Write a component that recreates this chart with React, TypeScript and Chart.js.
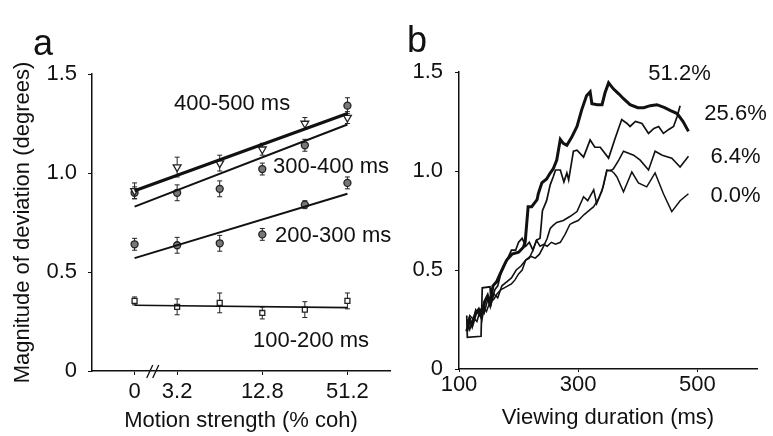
import { useEffect, useRef } from 'react';
import { Chart, registerables } from 'chart.js';

Chart.register(...registerables);

const FONT = "'Liberation Sans', Arial, Helvetica, sans-serif";
const INK = '#111';

// ---------- Panel a: magnitude of deviation vs motion strength ----------
const coherence = [0, 3.2, 6.4, 12.8, 25.6, 51.2];
const coherenceTickLabels = ['0', '3.2', '12.8', '51.2'];
const deviationTicks = [0, 0.5, 1.0, 1.5];

const dev400_500 = [0.91, 1.03, 1.05, 1.12, 1.25, 1.28];
const err400_500 = [0.04, 0.05, 0.04, 0.03, 0.03, 0.03];
const dev300_400 = [0.90, 0.90, 0.92, 1.02, 1.14, 1.34];
const err300_400 = [0.03, 0.04, 0.04, 0.03, 0.03, 0.04];
const dev200_300 = [0.64, 0.635, 0.645, 0.69, 0.84, 0.95];
const err200_300 = [0.03, 0.04, 0.04, 0.03, 0.02, 0.03];
const dev100_200 = [0.354, 0.324, 0.344, 0.293, 0.31, 0.354];
const err100_200 = [0.02, 0.04, 0.05, 0.03, 0.04, 0.04];

// regression line end values at coherence 0 and 51.2
const fitCoh = [0, 51.2];
const fit400_500 = [0.91, 1.30];
const fit300_400 = [0.83, 1.245];
const fit200_300 = [0.57, 0.895];
const fit100_200 = [0.332, 0.32];

// ---------- Panel b: deviation vs viewing duration ----------
const durationTicks = [100, 300, 500];

const dur51 = [113, 118, 122, 128, 133, 138, 143, 148, 152, 157, 163, 169, 175, 180, 189, 200, 208, 211, 216, 222, 231, 233, 239, 247, 253, 258, 264, 270, 275, 281, 289, 298, 306, 314, 320, 323, 332, 340, 345, 351, 359, 368, 376, 387, 400, 410, 421, 432, 445, 455, 466, 476, 485];
const dev51 = [0.19, 0.25, 0.22, 0.28, 0.30, 0.26, 0.34, 0.37, 0.33, 0.42, 0.44, 0.48, 0.52, 0.55, 0.58, 0.59, 0.615, 0.64, 0.82, 0.82, 0.855, 0.885, 0.94, 0.96, 0.99, 1.01, 1.055, 1.16, 1.14, 1.13, 1.17, 1.225, 1.31, 1.38, 1.40, 1.34, 1.335, 1.335, 1.395, 1.445, 1.415, 1.39, 1.365, 1.335, 1.32, 1.32, 1.33, 1.335, 1.32, 1.305, 1.29, 1.25, 1.20];

const dur256 = [113, 114, 137, 139, 152, 154, 160, 165, 170, 176, 182, 188, 195, 200, 206, 212, 218, 224, 230, 236, 240, 247, 253, 258, 262, 270, 276, 281, 284, 292, 298, 309, 320, 328, 337, 351, 362, 373, 382, 387, 396, 407, 418, 427, 435, 443, 452, 460, 466, 471];
const dev256 = [0.27, 0.16, 0.165, 0.41, 0.415, 0.33, 0.40, 0.42, 0.48, 0.52, 0.56, 0.60, 0.60, 0.64, 0.66, 0.62, 0.64, 0.60, 0.65, 0.66, 0.80, 0.85, 0.93, 0.97, 1.005, 1.005, 0.945, 0.99, 0.955, 1.10, 1.105, 1.07, 1.157, 1.12, 1.12, 1.065, 1.165, 1.26, 1.24, 1.225, 1.25, 1.24, 1.19, 1.215, 1.225, 1.19, 1.21, 1.225, 1.275, 1.33];

const dur64 = [113, 118, 124, 130, 136, 142, 148, 153, 158, 165, 172, 180, 188, 196, 204, 212, 220, 228, 235, 242, 248, 253, 258, 264, 275, 286, 298, 309, 316, 326, 331, 340, 348, 354, 359, 368, 376, 393, 404, 418, 429, 441, 457, 471, 485];
const dev64 = [0.25, 0.20, 0.26, 0.24, 0.30, 0.28, 0.35, 0.32, 0.38, 0.36, 0.42, 0.44, 0.46, 0.50, 0.52, 0.55, 0.57, 0.56, 0.58, 0.62, 0.66, 0.71, 0.725, 0.74, 0.75, 0.77, 0.795, 0.87, 0.85, 0.905, 0.835, 0.90, 1.005, 1.00, 1.01, 1.055, 1.10, 1.08, 1.055, 1.005, 1.10, 1.08, 1.065, 1.02, 1.075];

const dur00 = [113, 118, 124, 128, 134, 140, 146, 152, 158, 164, 170, 176, 182, 188, 194, 200, 206, 212, 218, 224, 230, 236, 242, 248, 255, 262, 270, 278, 286, 292, 300, 310, 318, 326, 334, 342, 348, 354, 360, 365, 376, 390, 401, 415, 429, 443, 457, 471, 485];
const dev00 = [0.22, 0.27, 0.25, 0.30, 0.27, 0.32, 0.29, 0.34, 0.35, 0.38, 0.40, 0.41, 0.42, 0.43, 0.45, 0.48, 0.50, 0.55, 0.56, 0.60, 0.65, 0.62, 0.63, 0.62, 0.64, 0.63, 0.64, 0.68, 0.73, 0.74, 0.75, 0.78, 0.80, 0.82, 0.86, 0.92, 1.00, 1.005, 0.99, 0.97, 0.895, 0.995, 0.94, 0.92, 0.99, 0.885, 0.795, 0.85, 0.885];

const cohIndex = (c: number) => coherence.indexOf(c);
const pointsA = (vals: number[]) => vals.map((v, i) => ({ x: i, y: v }));
const fitLine = (vals: number[]) => fitCoh.map((c, i) => ({ x: cohIndex(c), y: vals[i] }));
const seriesB = (xs: number[], ys: number[]) => xs.map((x, i) => ({ x, y: ys[i] }));

const errorBarPlugin = {
  id: 'errorBars',
  beforeDatasetsDraw(chart: any) {
    const { ctx, scales } = chart;
    const xs = scales.x;
    const ys = scales.y;
    ctx.save();
    ctx.strokeStyle = '#222';
    ctx.lineWidth = 1;
    chart.data.datasets.forEach((ds: any) => {
      if (!ds.errors) return;
      ds.data.forEach((p: any, i: number) => {
        const e = ds.errors[i];
        const px = xs.getPixelForValue(p.x);
        const y1 = ys.getPixelForValue(p.y + e);
        const y2 = ys.getPixelForValue(p.y - e);
        ctx.beginPath();
        ctx.moveTo(px, y1);
        ctx.lineTo(px, y2);
        ctx.moveTo(px - 2.5, y1);
        ctx.lineTo(px + 2.5, y1);
        ctx.moveTo(px - 2.5, y2);
        ctx.lineTo(px + 2.5, y2);
        ctx.stroke();
      });
    });
    ctx.restore();
  },
};

const annotationsPlugin = {
  id: 'annotations',
  afterDraw(chart: any, _args: any, opts: any) {
    const { ctx, scales } = chart;
    ctx.save();
    ctx.fillStyle = INK;
    ctx.textBaseline = 'middle';
    (opts.texts || []).forEach((t: any) => {
      ctx.font = `${t.size || 22}px ${FONT}`;
      ctx.textAlign = t.align || 'left';
      const px = t.pixel ? t.x : scales.x.getPixelForValue(t.x);
      const py = t.pixel ? t.y : scales.y.getPixelForValue(t.y);
      ctx.fillText(t.text, px, py);
    });
    if (opts.breakAt !== undefined) {
      const cx = scales.x.getPixelForValue(opts.breakAt);
      const ay = scales.y.getPixelForValue(0);
      ctx.strokeStyle = INK;
      ctx.lineWidth = 1.3;
      ctx.beginPath();
      ctx.moveTo(cx - 7, ay + 7);
      ctx.lineTo(cx - 1, ay - 6);
      ctx.moveTo(cx - 1, ay + 7);
      ctx.lineTo(cx + 5, ay - 6);
      ctx.stroke();
    }
    ctx.restore();
  },
};

const tickFont = { family: FONT, size: 22 };

function configA(): any {
  return {
    type: 'line',
    data: {
      datasets: [
        { data: fitLine(fit400_500), borderColor: INK, borderWidth: 3.2, pointRadius: 0 },
        { data: fitLine(fit300_400), borderColor: INK, borderWidth: 2, pointRadius: 0 },
        { data: fitLine(fit200_300), borderColor: INK, borderWidth: 2, pointRadius: 0 },
        { data: fitLine(fit100_200), borderColor: INK, borderWidth: 1.6, pointRadius: 0 },
        { data: pointsA(dev400_500), errors: err400_500, showLine: false, pointStyle: 'triangle', rotation: 180, pointRadius: 4.5, borderColor: '#222', backgroundColor: '#fff', borderWidth: 1.3 },
        { data: pointsA(dev300_400), errors: err300_400, showLine: false, pointStyle: 'circle', pointRadius: 3.5, borderColor: '#222', backgroundColor: '#777', borderWidth: 1.3 },
        { data: pointsA(dev200_300), errors: err200_300, showLine: false, pointStyle: 'circle', pointRadius: 3.5, borderColor: '#222', backgroundColor: '#777', borderWidth: 1.3 },
        { data: pointsA(dev100_200), errors: err100_200, showLine: false, pointStyle: 'rect', pointRadius: 3.5, borderColor: '#222', backgroundColor: '#fff', borderWidth: 1.3 },
      ],
    },
    options: {
      responsive: false,
      animation: false,
      devicePixelRatio: 1,
      layout: { padding: { left: 0, top: 74, right: 10, bottom: 0 } },
      plugins: {
        legend: { display: false },
        tooltip: { enabled: false },
        annotations: {
          breakAt: 0.45,
          texts: [
            { text: 'a', x: 43, y: 45, pixel: true, size: 36, align: 'center' },
            { text: '400-500 ms', x: 2.29, y: 1.35, align: 'center' },
            { text: '300-400 ms', x: 3.25, y: 1.03 },
            { text: '200-300 ms', x: 3.3, y: 0.68 },
            { text: '100-200 ms', x: 2.78, y: 0.15 },
          ],
        },
      },
      scales: {
        x: {
          type: 'linear',
          min: -1,
          max: 6,
          afterBuildTicks: (s: any) => {
            s.ticks = coherenceTickLabels.map((l) => ({ value: cohIndex(parseFloat(l)) }));
          },
          afterFit: (s: any) => { s.height = 65; },
          ticks: {
            autoSkip: false,
            maxRotation: 0,
            padding: 4,
            color: INK,
            font: tickFont,
            callback: (v: number) => coherenceTickLabels.find((l) => cohIndex(parseFloat(l)) === v) ?? '',
          },
          grid: { drawOnChartArea: false, drawTicks: true, tickLength: 4, color: INK },
          border: { display: true, color: INK, width: 1.5 },
          title: { display: true, text: 'Motion strength (% coh)', color: INK, font: tickFont, padding: { top: 0, bottom: 2 } },
        },
        y: {
          min: 0,
          max: 1.5,
          afterBuildTicks: (s: any) => { s.ticks = deviationTicks.map((v) => ({ value: v })); },
          afterFit: (s: any) => { s.width = 92; },
          ticks: {
            padding: 11,
            color: INK,
            font: tickFont,
            callback: (v: number) => (v === 0 ? '0' : v.toFixed(1)),
          },
          grid: { drawOnChartArea: false, drawTicks: true, tickLength: 4, color: INK },
          border: { display: true, color: INK, width: 1.5 },
          title: { display: true, text: 'Magnitude of deviation (degrees)', color: INK, font: tickFont, padding: { top: 10, bottom: 0 } },
        },
      },
    },
    plugins: [errorBarPlugin, annotationsPlugin],
  };
}

function configB(): any {
  const line = (xs: number[], ys: number[], w: number) => ({
    data: seriesB(xs, ys),
    borderColor: INK,
    borderWidth: w,
    pointRadius: 0,
    tension: 0,
  });
  return {
    type: 'line',
    data: {
      datasets: [
        line(dur00, dev00, 1.5),
        line(dur64, dev64, 1.6),
        line(dur256, dev256, 1.7),
        line(dur51, dev51, 3),
      ],
    },
    options: {
      responsive: false,
      animation: false,
      devicePixelRatio: 1,
      layout: { padding: { left: 0, top: 72, right: 16, bottom: 0 } },
      plugins: {
        legend: { display: false },
        tooltip: { enabled: false },
        annotations: {
          texts: [
            { text: 'b', x: 17, y: 42, pixel: true, size: 36, align: 'center' },
            { text: '51.2%', x: 470, y: 1.49, align: 'center' },
            { text: '25.6%', x: 564, y: 1.29, align: 'center' },
            { text: '6.4%', x: 564, y: 1.07, align: 'center' },
            { text: '0.0%', x: 564, y: 0.875, align: 'center' },
          ],
        },
      },
      scales: {
        x: {
          type: 'linear',
          min: 100,
          max: 600,
          afterBuildTicks: (s: any) => { s.ticks = durationTicks.map((v) => ({ value: v })); },
          afterFit: (s: any) => { s.height = 67; },
          ticks: { autoSkip: false, maxRotation: 0, padding: 0, color: INK, font: tickFont },
          grid: { drawOnChartArea: false, drawTicks: true, tickLength: 3, color: INK },
          border: { display: true, color: INK, width: 1.5 },
          title: { display: true, text: 'Viewing duration (ms)', color: INK, font: tickFont, padding: { top: 0, bottom: 5 } },
        },
        y: {
          min: 0,
          max: 1.5,
          afterBuildTicks: (s: any) => { s.ticks = deviationTicks.map((v) => ({ value: v })); },
          afterFit: (s: any) => { s.width = 59; },
          ticks: {
            padding: 12,
            color: INK,
            font: tickFont,
            callback: (v: number) => (v === 0 ? '0' : v.toFixed(1)),
          },
          grid: { drawOnChartArea: false, drawTicks: true, tickLength: 4, color: INK },
          border: { display: true, color: INK, width: 1.5 },
        },
      },
    },
    plugins: [annotationsPlugin],
  };
}

export default function App() {
  const refA = useRef<HTMLCanvasElement>(null);
  const refB = useRef<HTMLCanvasElement>(null);
  useEffect(() => {
    const a = new Chart(refA.current as HTMLCanvasElement, configA());
    const b = new Chart(refB.current as HTMLCanvasElement, configB());
    return () => {
      a.destroy();
      b.destroy();
    };
  }, []);
  return (
    <div style={{ position: 'fixed', left: 0, top: 0, width: 773, height: 436, background: '#fff' }}>
      <canvas ref={refA} width={400} height={436} style={{ position: 'absolute', left: 0, top: 0 }} />
      <canvas ref={refB} width={373} height={436} style={{ position: 'absolute', left: 400, top: 0 }} />
    </div>
  );
}
